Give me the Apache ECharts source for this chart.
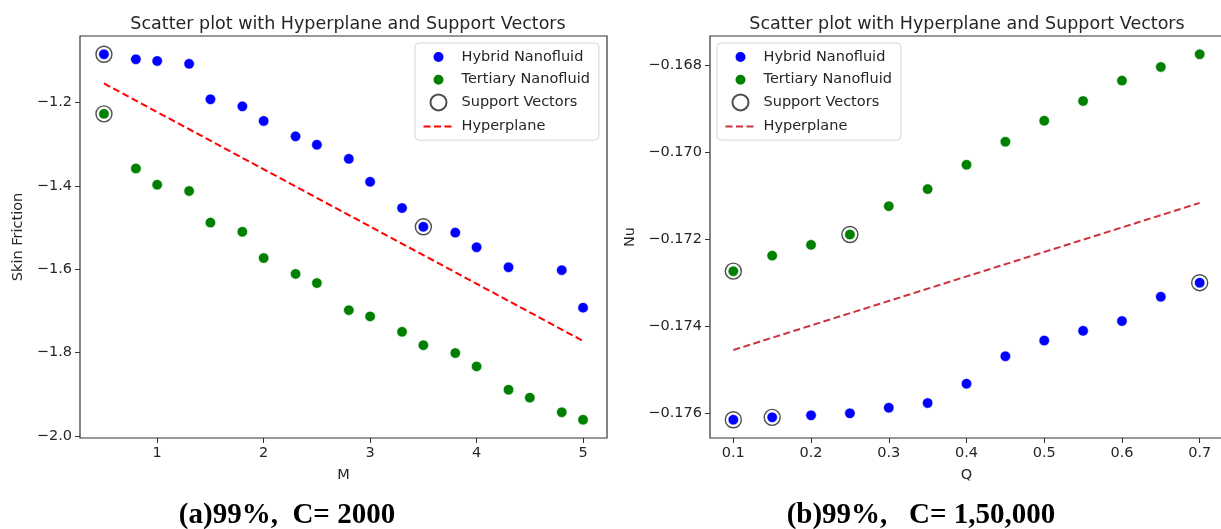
<!DOCTYPE html>
<html>
<head>
<meta charset="utf-8">
<script src="https://cdn.jsdelivr.net/npm/echarts@6/dist/echarts.min.js"></script>
<style>
html, body { margin: 0; padding: 0; background: #fff; overflow: hidden; }
#chartM { position: absolute; left: 0; top: 0; width: 610px; height: 529px; }
#chartQ { position: absolute; left: 610px; top: 0; width: 625px; height: 529px; }
</style>
</head>
<body>
<div id="chartM"></div>
<div id="chartQ"></div>
<script>
// (a) skin friction against M
const mHybrid = [0.5, 0.8, 1.0, 1.3, 1.5, 1.8, 2.0, 2.3, 2.5, 2.8, 3.0, 3.3, 3.5, 3.8, 4.0, 4.3, 4.8, 5.0]
const sfHybrid = [-1.084, -1.096, -1.100, -1.107, -1.192, -1.209, -1.244, -1.281, -1.301, -1.335, -1.390, -1.453, -1.498, -1.512, -1.547, -1.595, -1.602, -1.692]
const mTertiary = [0.5, 0.8, 1.0, 1.3, 1.5, 1.8, 2.0, 2.3, 2.5, 2.8, 3.0, 3.3, 3.5, 3.8, 4.0, 4.3, 4.5, 4.8, 5.0]
const sfTertiary = [-1.227, -1.358, -1.397, -1.412, -1.488, -1.510, -1.573, -1.611, -1.633, -1.698, -1.713, -1.750, -1.782, -1.801, -1.833, -1.889, -1.908, -1.943, -1.961]
const mSupport = [0.5, 0.5, 3.5]
const sfSupport = [-1.084, -1.227, -1.498]
const mPlane = [0.5, 5.0]
const sfPlane = [-1.154, -1.772]
const mTicks = [1, 2, 3, 4, 5]
const sfTicks = [-2.0, -1.8, -1.6, -1.4, -1.2]

// (b) Nu against Q
const qValues = [0.1, 0.15, 0.2, 0.25, 0.3, 0.35, 0.4, 0.45, 0.5, 0.55, 0.6, 0.65, 0.7]
const nuHybrid = [-0.176138, -0.176083, -0.176037, -0.175991, -0.175862, -0.175754, -0.175310, -0.174679, -0.174320, -0.174097, -0.173873, -0.173314, -0.172992]
const nuTertiary = [-0.172727, -0.172370, -0.172123, -0.171885, -0.171234, -0.170843, -0.170284, -0.169755, -0.169272, -0.168820, -0.168352, -0.168038, -0.167747]
const qSupport = [0.1, 0.25, 0.1, 0.15, 0.7]
const nuSupport = [-0.172727, -0.171885, -0.176138, -0.176083, -0.172992]
const qPlane = [0.1, 0.7]
const nuPlane = [-0.174537, -0.171160]
const qTicks = [0.1, 0.2, 0.3, 0.4, 0.5, 0.6, 0.7]
const nuTicks = [-0.176, -0.174, -0.172, -0.170, -0.168]

const FONT = 'DejaVu Sans'
const TEXT = '#262626'
// legend glyphs drawn inside a 30x16 slot
const DOT_ICON = 'path://M0 0M30 16M9 8A6 6 0 1 0 21 8A6 6 0 1 0 9 8Z'
const DASH_ICON = 'path://M0 0M30 16M0 8L30 8'

function zip(xs, ys) {
    return xs.map((x, i) => [x, ys[i]])
}

function padRange(values) {
    const lo = Math.min(...values)
    const hi = Math.max(...values)
    const pad = (hi - lo) * 0.05
    return [lo - pad, hi + pad]
}

function minus(text) {
    return text.replace('-', '\u2212')
}

function buildOption(cfg) {
    const xr = padRange(cfg.xs)
    const yr = padRange(cfg.ys)

    return {
        animation: false,
        title: [
            {
                text: 'Scatter plot with Hyperplane and Support Vectors',
                left: cfg.titleX,
                top: 10,
                textAlign: 'center',
                textStyle: { fontFamily: FONT, fontSize: 17.5, fontWeight: 'normal', color: TEXT }
            },
            {
                text: cfg.caption,
                left: cfg.captionX,
                top: 496,
                textAlign: 'center',
                textStyle: { fontFamily: 'Liberation Serif', fontSize: 29, fontWeight: 'bold', color: '#000' }
            }
        ],
        grid: {
            left: cfg.grid.left,
            right: cfg.grid.right,
            top: 36,
            bottom: 91,
            show: true,
            borderColor: '#333',
            borderWidth: 1.2,
            backgroundColor: 'transparent'
        },
        legend: {
            orient: 'vertical',
            left: cfg.legendX,
            top: 43,
            padding: [5, 9, 3, 6],
            itemWidth: 30,
            itemHeight: 16,
            itemGap: 4.7,
            backgroundColor: 'rgba(255,255,255,0.85)',
            borderColor: '#d4d4d4',
            borderWidth: 1,
            borderRadius: 4,
            textStyle: { fontFamily: FONT, fontSize: 14.5, color: TEXT, padding: [0, 0, 0, 3] },
            data: [
                { name: 'Hybrid Nanofluid', icon: DOT_ICON },
                { name: 'Tertiary Nanofluid', icon: DOT_ICON },
                { name: 'Support Vectors', icon: 'circle' },
                {
                    name: 'Hyperplane',
                    icon: DASH_ICON,
                    itemStyle: { color: 'none', borderColor: cfg.planeColor, borderWidth: 2, borderType: [7, 3.5] }
                }
            ]
        },
        xAxis: {
            type: 'value',
            min: xr[0],
            max: xr[1],
            name: cfg.xName,
            nameLocation: 'middle',
            nameGap: 30,
            nameTextStyle: { fontFamily: FONT, fontSize: 14.5, color: TEXT },
            axisLine: { show: false },
            splitLine: { show: false },
            axisTick: { show: true, length: 5, lineStyle: { color: '#333' }, customValues: cfg.xTicks },
            axisLabel: {
                margin: 8,
                fontFamily: FONT,
                fontSize: 14.5,
                color: TEXT,
                customValues: cfg.xTicks,
                formatter: v => minus(v.toFixed(cfg.xDigits))
            }
        },
        yAxis: {
            type: 'value',
            min: yr[0],
            max: yr[1],
            name: cfg.yName,
            nameLocation: 'middle',
            nameGap: cfg.yNameGap,
            nameTextStyle: { fontFamily: FONT, fontSize: 14.5, color: TEXT },
            axisLine: { show: false },
            splitLine: { show: false },
            axisTick: { show: true, length: 5, lineStyle: { color: '#333' }, customValues: cfg.yTicks },
            axisLabel: {
                margin: 8,
                fontFamily: FONT,
                fontSize: 14.5,
                color: TEXT,
                customValues: cfg.yTicks,
                formatter: v => minus(v.toFixed(cfg.yDigits))
            }
        },
        series: [
            {
                name: 'Hybrid Nanofluid',
                type: 'scatter',
                symbolSize: 10.5,
                itemStyle: { color: '#0000ff', borderColor: '#fff', borderWidth: 0.6, opacity: 1 },
                data: cfg.hybrid
            },
            {
                name: 'Tertiary Nanofluid',
                type: 'scatter',
                symbolSize: 10.5,
                itemStyle: { color: '#008000', borderColor: '#fff', borderWidth: 0.6, opacity: 1 },
                data: cfg.tertiary
            },
            {
                name: 'Support Vectors',
                type: 'scatter',
                symbolSize: 16,
                z: 3,
                itemStyle: { color: 'rgba(0,0,0,0)', borderColor: '#222', borderWidth: 1.4 },
                data: cfg.support
            },
            {
                name: 'Hyperplane',
                type: 'line',
                symbol: 'none',
                lineStyle: { color: cfg.planeColor, width: 2, type: [7, 3.5] },
                itemStyle: { color: cfg.planeColor },
                data: cfg.plane
            }
        ]
    }
}

const chartM = echarts.init(document.getElementById('chartM'))
chartM.setOption(buildOption({
    xs: mHybrid.concat(mTertiary),
    ys: sfHybrid.concat(sfTertiary),
    hybrid: zip(mHybrid, sfHybrid),
    tertiary: zip(mTertiary, sfTertiary),
    support: zip(mSupport, sfSupport),
    plane: zip(mPlane, sfPlane),
    xTicks: mTicks,
    yTicks: sfTicks,
    xDigits: 0,
    yDigits: 1,
    xName: 'M',
    yName: 'Skin Friction',
    yNameGap: 50,
    grid: { left: 80, right: 3 },
    titleX: 343,
    legendX: 415,
    planeColor: '#ff0000',
    caption: '(a)99%,  C= 2000',
    captionX: 282
}))

const chartQ = echarts.init(document.getElementById('chartQ'))
chartQ.setOption(buildOption({
    xs: qValues,
    ys: nuHybrid.concat(nuTertiary),
    hybrid: zip(qValues, nuHybrid),
    tertiary: zip(qValues, nuTertiary),
    support: zip(qSupport, nuSupport),
    plane: zip(qPlane, nuPlane),
    xTicks: qTicks,
    yTicks: nuTicks,
    xDigits: 1,
    yDigits: 3,
    xName: 'Q',
    yName: 'Nu',
    yNameGap: 70,
    grid: { left: 100, right: 12 },
    titleX: 352,
    legendX: 107,
    planeColor: '#cf3340',
    caption: '(b)99%,   C= 1,50,000',
    captionX: 306
}))
</script>
</body>
</html>
